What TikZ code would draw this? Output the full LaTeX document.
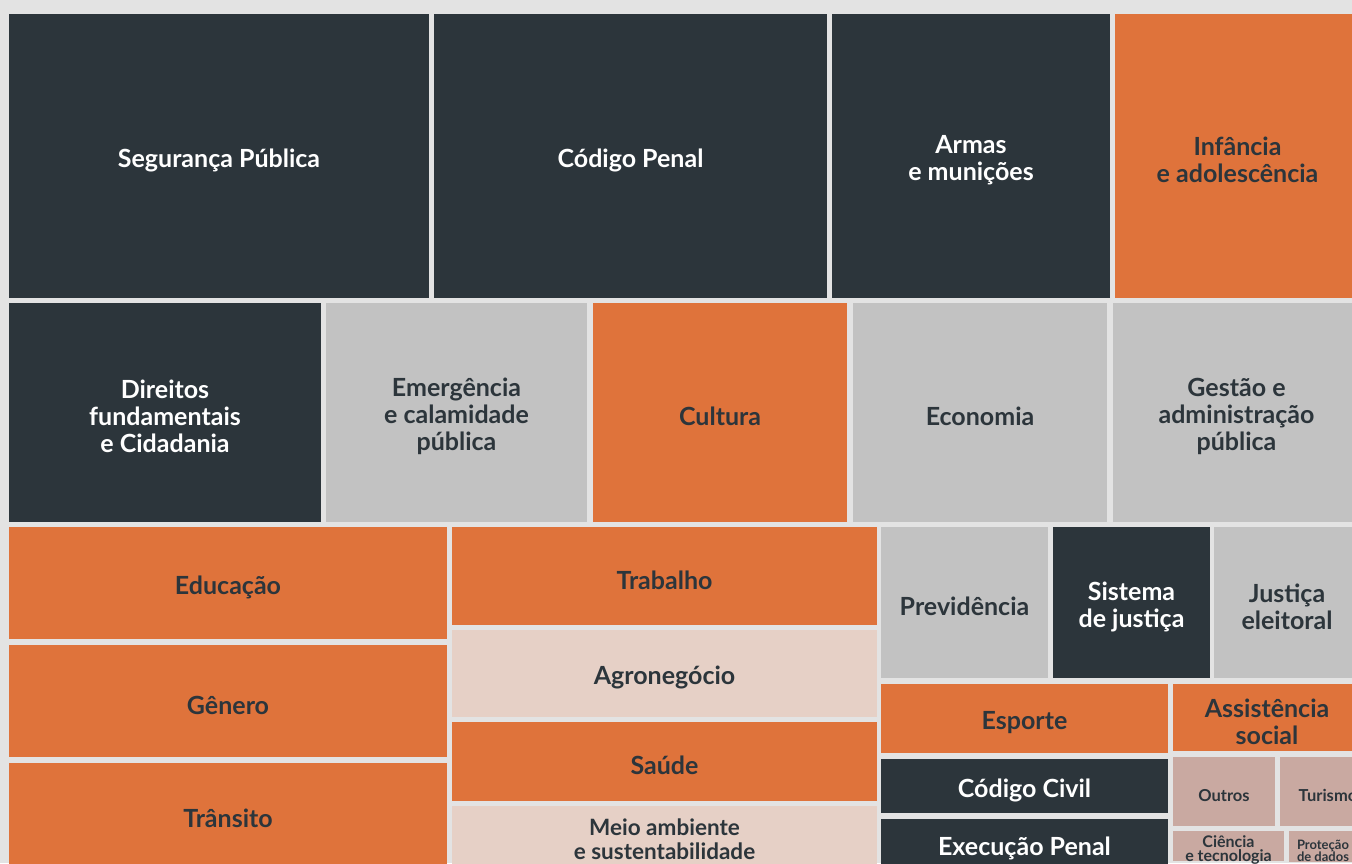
\documentclass[tikz,border=0pt]{standalone}
\usepackage{fontspec}
\setmainfont{Lato}
\definecolor{bg}{HTML}{E3E3E3}
\definecolor{dk}{HTML}{2C353B}
\definecolor{org}{HTML}{DF733B}
\definecolor{gry}{HTML}{C2C2C2}
\definecolor{pnk}{HTML}{E6D0C6}
\definecolor{rose}{HTML}{C9A9A1}
\newcommand{\tl}[7]{%
  \fill[#6] (#2,#3) rectangle (#4,#5);
  \node[#6, fill=none, yshift=-4pt] (#1) at ({((#2)+(#4))/2},{((#3)+(#5))/2}) {#7};}
\tikzset{
  tbase/.style={inner sep=0pt, outer sep=0pt, align=center, font=\fontsize{25}{27}\selectfont\bfseries},
  darktile/.style={tbase, fill=dk, text=white},
  orgtile/.style={tbase, fill=org, text=dk},
  grytile/.style={tbase, fill=gry, text=dk},
  pnktile/.style={tbase, fill=pnk, text=dk},
  rosetile/.style={tbase, fill=rose, text=dk},
}
\begin{document}
\begin{tikzpicture}[x=1pt,y=-1pt]
\useasboundingbox (0,0) rectangle (1352,863);
\clip (0,0) rectangle (1352,863);
\fill[bg] (0,0) rectangle (1352,863);
% row 1
\tl{seg}{9}{14}{429}{298}{darktile}{Segurança Pública}
\tl{cod}{434}{14}{827}{298}{darktile}{Código Penal}
\tl{arm}{832}{14}{1110}{298}{darktile}{Armas\\e munições}
\tl{inf}{1115}{14}{1360}{298}{orgtile}{Infância\\e adolescência}
% row 2
\tl{dir}{9}{303}{321}{522}{darktile}{Direitos\\fundamentais\\e Cidadania}
\tl{eme}{326}{303}{587}{522}{grytile}{Emergência\\e calamidade\\pública}
\tl{cul}{593}{303}{847}{522}{orgtile}{Cultura}
\tl{eco}{853}{303}{1107}{522}{grytile}{Economia}
\tl{ges}{1113}{303}{1360}{522}{grytile}{Gestão e\\administração\\pública}
% left column
\tl{edu}{9}{527}{447}{639}{orgtile}{Educação}
\tl{gen}{9}{645}{447}{757}{orgtile}{Gênero}
\tl{tra}{9}{763}{447}{866}{orgtile}{Trânsito}
% middle column
\tl{trab}{452}{527}{877}{625}{orgtile}{Trabalho}
\tl{agr}{452}{630}{877}{717}{pnktile}{Agronegócio}
\tl{sau}{452}{722}{877}{801}{orgtile}{Saúde}
\tl{mei}{452}{806}{877}{864}{pnktile, font=\fontsize{22.5}{24}\selectfont\bfseries}{Meio ambiente\\e sustentabilidade}
% right block
\tl{pre}{881}{527}{1048}{678}{grytile}{Previdência}
\tl{sis}{1053}{527}{1210}{678}{darktile}{Sistema\\de justiça}
\tl{jus}{1214}{527}{1360}{678}{grytile}{Justiça\\eleitoral}
\tl{esp}{881}{684}{1168}{753}{orgtile}{Esporte}
\tl{civ}{881}{759}{1168}{813}{darktile}{Código Civil}
\tl{exe}{881}{819}{1168}{869}{darktile}{Execução Penal}
\tl{ass}{1173}{684}{1361}{751}{orgtile}{Assistência\\social}
\tl{out}{1173}{757}{1275}{826}{rosetile, font=\fontsize{16.5}{18}\selectfont\bfseries}{Outros}
\tl{tur}{1280}{757}{1376}{826}{rosetile, font=\fontsize{16.5}{18}\selectfont\bfseries}{Turismo}
\tl{cie}{1173}{831}{1284}{861}{rosetile, font=\fontsize{16}{13.5}\selectfont\bfseries}{Ciência\\e tecnologia}
\tl{pro}{1289}{831}{1357}{862}{rosetile, font=\fontsize{13}{12}\selectfont\bfseries}{Proteção\\de dados}
\end{tikzpicture}
\end{document}
